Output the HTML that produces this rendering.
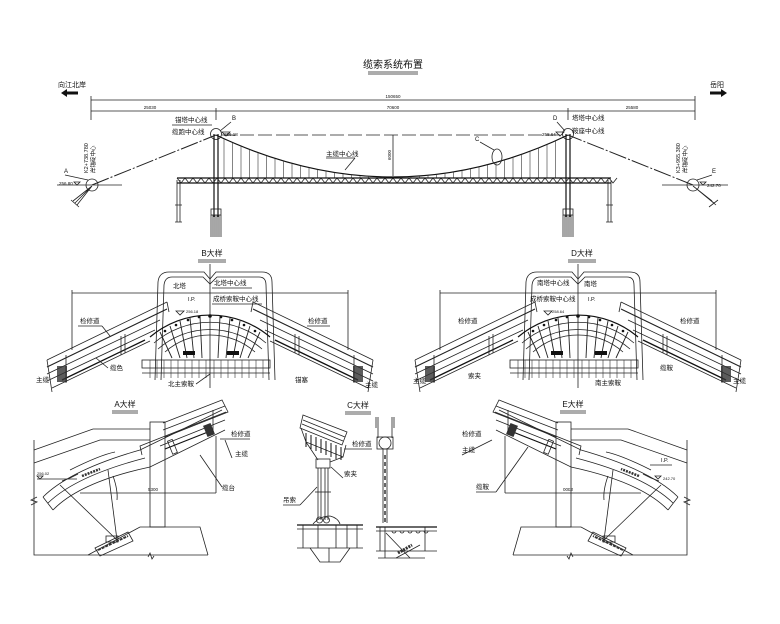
<!DOCTYPE html>
<html><head><meta charset="utf-8">
<style>
html,body{margin:0;padding:0;background:#fff;}
svg{display:block;}
text{font-family:"Liberation Sans","Noto Sans CJK SC",sans-serif;fill:#111;}
.l{stroke:#222;stroke-width:0.8;fill:none;}
.t{stroke:#111;stroke-width:1.2;fill:none;}
.f{stroke:#888;stroke-width:0.5;fill:none;}
</style></head><body>
<svg width="780" height="624" viewBox="0 0 780 624" xmlns="http://www.w3.org/2000/svg">
<rect width="780" height="624" fill="#fff"/>

<text x="393" y="68" font-size="10" text-anchor="middle">缆索系统布置</text>
<line class="l" x1="368" y1="72" x2="418" y2="72"/><line class="l" x1="368" y1="74" x2="418" y2="74"/>

<text x="58" y="87" font-size="7">向江北岸</text>
<path d="M61 93 L67 89 L67 91.5 L78 91.5 L78 94.5 L67 94.5 L67 97 Z" fill="#111"/>
<text x="710" y="87" font-size="7">岳阳</text>
<path d="M727 93 L721 89 L721 91.5 L710 91.5 L710 94.5 L721 94.5 L721 97 Z" fill="#111"/>

<line class="l" x1="91" y1="100" x2="695" y2="100"/>
<line class="l" x1="91" y1="111" x2="695" y2="111"/>
<line class="l" x1="91" y1="96" x2="91" y2="120"/>
<line class="l" x1="695" y1="96" x2="695" y2="120"/>
<line class="l" x1="216" y1="108" x2="216" y2="120"/>
<line class="l" x1="568" y1="108" x2="568" y2="120"/>
<text x="393" y="98" font-size="4.5" text-anchor="middle">150650</text>
<text x="150" y="109" font-size="4.5" text-anchor="middle">25030</text>
<text x="393" y="109" font-size="4.5" text-anchor="middle">70600</text>
<text x="632" y="109" font-size="4.5" text-anchor="middle">25580</text>

<text x="175" y="122" font-size="6.5">锚塔中心线</text>
<text x="172" y="134" font-size="6.5">缆跑中心线</text>
<line class="l" x1="172" y1="125" x2="212" y2="125"/>
<text x="232" y="120" font-size="6">B</text>
<line class="l" x1="220" y1="131" x2="231" y2="122"/>
<text x="572" y="120" font-size="6.5">塔塔中心线</text>
<text x="572" y="133" font-size="6.5">鞍座中心线</text>
<text x="553" y="120" font-size="6">D</text>
<line class="l" x1="557" y1="122" x2="565" y2="131"/>
<text x="224" y="136" font-size="4.5">256.18</text>
<text x="542" y="136" font-size="4.5">258.64</text>
<path class="l" d="M222 132 l4 4 l4 -4 z M556 132 l4 4 l4 -4 z"/>

<circle class="l" cx="216" cy="134" r="5.5"/>
<circle class="l" cx="568" cy="134" r="5.5"/>
<line class="t" x1="214" y1="134" x2="214" y2="217"/>
<line class="t" x1="218" y1="134" x2="218" y2="217"/>
<line class="t" x1="566" y1="134" x2="566" y2="217"/>
<line class="t" x1="570" y1="134" x2="570" y2="217"/>
<rect x="211" y="209" width="10" height="6" class="l"/>
<rect x="563" y="209" width="10" height="6" class="l"/>
<g stroke="#222" stroke-width="0.8">
<line x1="211" y1="215" x2="211" y2="237"/><line x1="213" y1="215" x2="213" y2="237"/><line x1="215" y1="215" x2="215" y2="237"/><line x1="217" y1="215" x2="217" y2="237"/><line x1="219" y1="215" x2="219" y2="237"/><line x1="221" y1="215" x2="221" y2="237"/>
<line x1="563" y1="215" x2="563" y2="237"/><line x1="565" y1="215" x2="565" y2="237"/><line x1="567" y1="215" x2="567" y2="237"/><line x1="569" y1="215" x2="569" y2="237"/><line x1="571" y1="215" x2="571" y2="237"/><line x1="573" y1="215" x2="573" y2="237"/>
</g>
<path class="l" d="M177 180 L177 222 M180 180 L180 222 M175 205 h7 M175 222 h7 M608 180 L608 222 M611 180 L611 222 M606 205 h7 M606 222 h7"/>

<line x1="222" y1="135" x2="562" y2="135" stroke="#222" stroke-width="0.8" stroke-dasharray="14,4"/>
<path class="t" d="M216 135 Q393 219 568 135"/>
<g stroke="#333" stroke-width="0.6" id="hangers"></g>
<line class="l" x1="393" y1="135" x2="393" y2="176"/>
<text x="391" y="160" font-size="4.5" transform="rotate(-90 391 160)">6000</text>
<text x="326" y="156" font-size="6.5">主缆中心线</text>
<line class="l" x1="326" y1="158" x2="355" y2="158"/><line class="l" x1="355" y1="158" x2="345" y2="170"/>
<ellipse class="l" cx="497" cy="157" rx="5" ry="8"/>
<text x="475" y="141" font-size="6">C</text>
<line class="l" x1="480" y1="142" x2="494" y2="150"/>

<line class="t" x1="177" y1="178" x2="611" y2="178"/>
<line class="t" x1="177" y1="183" x2="611" y2="183"/>
<path id="truss" class="l" d=""/>

<line x1="92" y1="185" x2="216" y2="135" stroke="#222" stroke-width="1" stroke-dasharray="18,2,2,2"/>
<line x1="693" y1="185" x2="568" y2="135" stroke="#222" stroke-width="1" stroke-dasharray="18,2,2,2"/>
<circle class="l" cx="92" cy="185" r="6"/>
<circle class="l" cx="693" cy="185" r="6"/>
<line class="l" x1="57" y1="185" x2="122" y2="185"/>
<line class="l" x1="662" y1="185" x2="728" y2="185"/>
<path class="l" d="M92 186 L73 201 M92 186 L77 205 M92 186 L75 203 M71 200 L79 207"/>
<path class="l" d="M693 186 L712 201 M693 186 L716 205 M693 186 L714 203 M709 207 L718 200"/>
<text x="64" y="173" font-size="6">A</text>
<line class="l" x1="65" y1="175" x2="88" y2="180"/>
<text x="59" y="185" font-size="4.5">256.80</text>
<path class="l" d="M74 182 l3 3 l3 -3 z"/>
<text x="88" y="173" font-size="5.5" transform="rotate(-90 88 173)">K2+738.780</text>
<text x="95" y="173" font-size="5.5" transform="rotate(-90 95 173)">岸锚碇中心</text>
<text x="680" y="173" font-size="5.5" transform="rotate(-90 680 173)">K3+965.380</text>
<text x="687" y="173" font-size="5.5" transform="rotate(-90 687 173)">岸锚碇中心</text>
<text x="712" y="173" font-size="6">E</text>
<line class="l" x1="697" y1="180" x2="712" y2="175"/>
<text x="707" y="187" font-size="4.5">242.70</text>
<path class="l" d="M700 182 l3 3 l3 -3 z"/>

<g id="saddle">
<line class="l" x1="72" y1="293" x2="348" y2="293"/>
<line class="l" x1="72" y1="290" x2="72" y2="350"/>
<line class="l" x1="348" y1="290" x2="348" y2="350"/>
<path class="l" d="M155 380 L158 282 Q159 272 169 272 L204 272 L210 279 L216 272 L262 272 Q272 272 272 282 L275 380"/>
<path class="l" d="M161 380 L164 285 Q165 277 172 277 L203 277 L210 284 L217 277 L259 277 Q266 277 266 285 L269 380"/>
<line class="l" x1="210" y1="264" x2="210" y2="388"/>
<path class="t" d="M150 337 A93 93 0 0 1 270 337"/>
<path class="l" d="M154 343 A86 86 0 0 1 266 343"/>
<path class="l" d="M158 349 A79 79 0 0 1 262 349"/>
<path class="l" d="M165 352 A68 68 0 0 1 255 352"/>
<g stroke="#222" stroke-width="0.9">
<line x1="160" y1="332" x2="172" y2="358"/><line x1="170" y1="326" x2="180" y2="358"/><line x1="180" y1="321" x2="187" y2="358"/><line x1="190" y1="318" x2="194" y2="358"/><line x1="200" y1="316" x2="202" y2="358"/>
<line x1="220" y1="316" x2="218" y2="358"/><line x1="230" y1="318" x2="226" y2="358"/><line x1="240" y1="321" x2="233" y2="358"/><line x1="250" y1="326" x2="240" y2="358"/><line x1="260" y1="332" x2="248" y2="358"/>
</g>
<g fill="#111">
<circle cx="165" cy="331" r="1.3"/><circle cx="176" cy="325" r="1.3"/><circle cx="188" cy="320" r="1.3"/><circle cx="199" cy="317" r="1.3"/><circle cx="210" cy="316" r="1.8"/><circle cx="221" cy="317" r="1.3"/><circle cx="232" cy="320" r="1.3"/><circle cx="244" cy="325" r="1.3"/><circle cx="255" cy="331" r="1.3"/>
<rect x="183" y="351" width="12" height="4"/><rect x="227" y="351" width="12" height="4"/>
</g>
<rect class="l" x="142" y="360" width="128" height="8"/>
<line class="l" x1="142" y1="373" x2="270" y2="373"/>
<g stroke="#333" stroke-width="0.6">
<line x1="150" y1="360" x2="150" y2="378"/><line x1="157" y1="360" x2="157" y2="378"/><line x1="164" y1="360" x2="164" y2="378"/><line x1="171" y1="360" x2="171" y2="378"/><line x1="178" y1="360" x2="178" y2="378"/><line x1="185" y1="360" x2="185" y2="378"/><line x1="192" y1="360" x2="192" y2="378"/><line x1="199" y1="360" x2="199" y2="378"/><line x1="206" y1="360" x2="206" y2="378"/><line x1="214" y1="360" x2="214" y2="378"/><line x1="221" y1="360" x2="221" y2="378"/><line x1="228" y1="360" x2="228" y2="378"/><line x1="235" y1="360" x2="235" y2="378"/><line x1="242" y1="360" x2="242" y2="378"/><line x1="249" y1="360" x2="249" y2="378"/><line x1="256" y1="360" x2="256" y2="378"/><line x1="263" y1="360" x2="263" y2="378"/>
</g>
<g class="l">
<line x1="47" y1="360" x2="167" y2="302"/>
<line x1="47" y1="367" x2="167" y2="309" stroke-width="1.1"/>
<line x1="47" y1="374" x2="160" y2="320"/>
<line x1="47" y1="381" x2="155" y2="330"/>
<line x1="52" y1="388" x2="150" y2="341"/>
<line x1="47" y1="360" x2="52" y2="392"/>
<line x1="167" y1="302" x2="169" y2="312"/>
</g>
<line x1="62" y1="380" x2="145" y2="340" stroke="#111" stroke-width="1.3"/>
<rect x="57" y="366" width="10" height="16" fill="#333" opacity="0.8"/>
<line class="l" x1="66" y1="355" x2="66" y2="383"/>
<line class="l" x1="121" y1="336" x2="121" y2="355"/><line class="l" x1="125" y1="334" x2="125" y2="353"/>
<g class="l">
<line x1="373" y1="360" x2="253" y2="302"/>
<line x1="373" y1="367" x2="253" y2="309" stroke-width="1.1"/>
<line x1="373" y1="374" x2="260" y2="320"/>
<line x1="373" y1="381" x2="265" y2="330"/>
<line x1="368" y1="388" x2="270" y2="341"/>
<line x1="373" y1="360" x2="368" y2="392"/>
<line x1="253" y1="302" x2="251" y2="312"/>
</g>
<line x1="358" y1="380" x2="275" y2="340" stroke="#111" stroke-width="1.3"/>
<rect x="353" y="366" width="10" height="16" fill="#333" opacity="0.8"/>
<line class="l" x1="354" y1="355" x2="354" y2="383"/>
<line class="l" x1="299" y1="336" x2="299" y2="355"/><line class="l" x1="295" y1="334" x2="295" y2="353"/>
<path class="l" d="M176 311 l4 4 l4 -4 z"/>
</g>

<text x="212" y="256" font-size="8" text-anchor="middle">B大样</text>
<line class="l" x1="198" y1="260" x2="226" y2="260"/><line class="l" x1="198" y1="262" x2="226" y2="262"/>
<text x="173" y="288" font-size="6.5">北塔</text>
<text x="214" y="285" font-size="6.5">北塔中心线</text>
<line class="l" x1="212" y1="288" x2="252" y2="288"/>
<text x="213" y="301" font-size="6.5">成桥索鞍中心线</text>
<line class="l" x1="212" y1="304" x2="262" y2="304"/>
<text x="188" y="301" font-size="5.5">I.P.</text>
<text x="186" y="313" font-size="4">256.18</text>
<text x="80" y="323" font-size="6.5">检修道</text>
<line class="l" x1="78" y1="326" x2="102" y2="326"/><line class="l" x1="102" y1="326" x2="110" y2="336"/>
<text x="308" y="323" font-size="6.5">检修道</text>
<line class="l" x1="307" y1="326" x2="330" y2="326"/>
<text x="110" y="370" font-size="6.5">缆色</text>
<line class="l" x1="96" y1="358" x2="108" y2="368"/>
<text x="36" y="382" font-size="6.5">主缆</text>
<text x="168" y="386" font-size="6.5">北主索鞍</text>
<line class="l" x1="196" y1="384" x2="210" y2="374"/>
<text x="295" y="382" font-size="6.5">锚塞</text>
<text x="365" y="387" font-size="6.5">主缆</text>

<use href="#saddle" transform="translate(368,0)"/>
<text x="582" y="256" font-size="8" text-anchor="middle">D大样</text>
<line class="l" x1="568" y1="260" x2="596" y2="260"/><line class="l" x1="568" y1="262" x2="596" y2="262"/>
<text x="537" y="285" font-size="6.5">南塔中心线</text>
<text x="584" y="286" font-size="6.5">南塔</text>
<text x="530" y="301" font-size="6.5">成桥索鞍中心线</text>
<text x="588" y="301" font-size="5.5">I.P.</text>
<text x="552" y="313" font-size="4">258.64</text>
<text x="458" y="323" font-size="6.5">检修道</text>
<text x="680" y="323" font-size="6.5">检修道</text>
<text x="468" y="378" font-size="6.5">索夹</text>
<text x="413" y="383" font-size="6.5">主缆</text>
<text x="595" y="385" font-size="6.5">南主索鞍</text>
<text x="660" y="370" font-size="6.5">缆鞍</text>
<text x="733" y="383" font-size="6.5">主缆</text>

<g id="anchorA">
<path class="l" d="M34 440 L34 555 L208 555"/>
<path class="l" d="M31 505 l6 -3 l-6 -2 l6 -3"/>
<path class="l" d="M34 450 L93 429 L150 429"/>
<path class="l" d="M34 463 L100 440 L150 440"/>
<rect class="l" x="150" y="422" width="15" height="105"/>
<path class="l" d="M88 555 L140 527 L200 527 L208 555"/>
<path class="l" d="M43 497 Q70 470 140 450 L222 410"/>
<path class="l" d="M53 510 Q80 482 150 467 L225 430"/>
<path class="l" d="M48 503 Q76 476 145 458"/>
<line class="l" x1="43" y1="497" x2="53" y2="510"/>
<path class="l" d="M113 476 Q118 490 117 500"/>
<path class="l" d="M70 470 Q100 455 115 452"/>
<path class="l" d="M163 423 L222 400 L228 412 L165 437"/>
<path class="l" d="M163 430 L225 406"/>
<path class="l" d="M160 446 L225 420"/>
<path class="l" d="M142 455 L140 446 L226 412"/>
<line x1="165" y1="449" x2="213" y2="430" stroke="#111" stroke-width="1.2"/>
<rect x="170" y="440" width="5" height="14" class="l" transform="rotate(-22 172 447)"/>
<rect x="205" y="424" width="8" height="12" fill="#333" transform="rotate(-22 209 430)"/>
<line class="l" x1="213" y1="410" x2="213" y2="432"/>
<line class="l" x1="216" y1="436" x2="216" y2="493"/>
<line class="l" x1="80" y1="493" x2="216" y2="493"/>
<text x="148" y="491" font-size="4.5">5300</text>
<line class="l" x1="117" y1="540" x2="60" y2="485"/>
<line class="l" x1="117" y1="540" x2="108" y2="470"/>
<path class="l" d="M95 548 L128 532 L133 541 L100 556 Z"/>
<rect x="106" y="536" width="12" height="6" class="l"/>
<path d="M98 550 L128 536" stroke="#333" stroke-width="2" stroke-dasharray="3,1"/>
<path class="l" d="M62 481 l8 -3 l4 -2 l4 -2"/>
<path d="M82 476 L100 469" stroke="#333" stroke-width="2.5" stroke-dasharray="2,1"/>
<path class="l" d="M148 557 l2 -4 l2 6 l2 -3"/>
</g>
<text x="125" y="407" font-size="8" text-anchor="middle">A大样</text>
<line class="l" x1="112" y1="411" x2="138" y2="411"/><line class="l" x1="112" y1="413" x2="138" y2="413"/>
<text x="231" y="436" font-size="6.5">检修道</text>
<line class="l" x1="220" y1="439" x2="250" y2="439"/>
<text x="235" y="456" font-size="6.5">主缆</text>
<line class="l" x1="225" y1="440" x2="232" y2="458"/>
<text x="222" y="490" font-size="6.5">缆台</text>
<line class="l" x1="200" y1="455" x2="222" y2="487"/>
<text x="37" y="475" font-size="4">256.02</text>
<path class="l" d="M37 476 l3 3 l3 -3 z M37 479 h40"/>

<use href="#anchorA" transform="translate(721,0) scale(-1,1)"/>
<text x="573" y="407" font-size="8" text-anchor="middle">E大样</text>
<line class="l" x1="560" y1="411" x2="586" y2="411"/><line class="l" x1="560" y1="413" x2="586" y2="413"/>
<text x="462" y="436" font-size="6.5">检修道</text>
<text x="462" y="452" font-size="6.5">主缆</text>
<line class="l" x1="462" y1="455" x2="492" y2="440"/>
<text x="476" y="489" font-size="6.5">缆鞍</text>
<line class="l" x1="476" y1="492" x2="496" y2="492"/><line class="l" x1="496" y1="492" x2="528" y2="447"/>
<text x="661" y="462" font-size="5.5">I.P.</text>
<text x="663" y="480" font-size="4">242.70</text>
<path class="l" d="M655 476 l3 3 l3 -3 z M650 465 h22"/>

<text x="358" y="408" font-size="8" text-anchor="middle">C大样</text>
<line class="l" x1="345" y1="412" x2="371" y2="412"/><line class="l" x1="345" y1="414" x2="371" y2="414"/>
<path class="l" d="M303 415 L347 432 L342 445 L300 428 Z"/>
<path class="l" d="M303 420 L345 437 M302 424 L343 441"/>
<path class="l" d="M301 428 L306 442 L343 457 L346 445"/>
<g stroke="#111" stroke-width="1">
<line x1="306" y1="433" x2="306" y2="447"/><line x1="311" y1="435" x2="311" y2="449"/><line x1="316" y1="437" x2="316" y2="451"/><line x1="321" y1="439" x2="321" y2="453"/><line x1="326" y1="441" x2="326" y2="455"/><line x1="331" y1="443" x2="331" y2="457"/><line x1="336" y1="445" x2="336" y2="459"/><line x1="341" y1="447" x2="341" y2="460"/>
</g>
<path class="l" d="M306 442 L318 460 M343 457 L330 462"/>
<rect class="l" x="316" y="459" width="14" height="9"/>
<g class="l">
<line x1="318" y1="468" x2="318" y2="520"/><line x1="321" y1="468" x2="321" y2="520"/>
<line x1="325" y1="468" x2="325" y2="520"/><line x1="328" y1="468" x2="328" y2="520"/>
<line x1="315" y1="492" x2="331" y2="492"/>
</g>
<circle class="l" cx="319.5" cy="520" r="3"/><circle class="l" cx="326.5" cy="520" r="3"/>
<path class="l" d="M313 524 Q320 516 330 516 Q338 518 340 524"/>
<line class="t" x1="297" y1="525" x2="363" y2="525"/>
<path class="l" d="M297 529 L363 529 M297 548 L363 548 M303 525 L303 548 M357 525 L357 548 M318 525 L318 548 M336 525 L336 548 M347 525 L347 548"/>
<path class="l" d="M310 548 L320 562 L340 562 L350 548"/>
<line class="l" x1="329" y1="548" x2="329" y2="562"/>
<text x="352" y="446" font-size="6.5">检修道</text>
<line class="l" x1="344" y1="449" x2="372" y2="449"/>
<text x="344" y="476" font-size="6.5">索夹</text>
<line class="l" x1="331" y1="467" x2="343" y2="478"/>
<text x="283" y="502" font-size="6.5">吊索</text>
<line class="l" x1="283" y1="505" x2="300" y2="505"/><line class="l" x1="300" y1="505" x2="317" y2="487"/>
<path class="l" d="M378 417 L378 438 M392 417 L392 438 M376 417 L376 428 M394 417 L394 428"/>
<circle class="l" cx="385" cy="443" r="6"/>
<rect class="l" x="377" y="437" width="16" height="12"/>
<path class="l" d="M383 449 L383 523 M387 449 L387 523"/>
<path d="M385 455 L385 522" stroke="#333" stroke-width="1.5" stroke-dasharray="4,3"/>
<line class="t" x1="376" y1="527" x2="437" y2="527"/>
<path class="l" d="M376 531 L437 531 M376 551 L437 551 M380 527 L380 551 M425 527 L425 551 M385 527 L385 558"/>
<path class="l" d="M392 531 a2 2 0 0 0 4 0 M400 531 a2 2 0 0 0 4 0 M408 531 a2 2 0 0 0 4 0 M416 531 a2 2 0 0 0 4 0 M424 531 a2 2 0 0 0 4 0"/>
<path class="l" d="M386 533 L410 558 M396 558 L420 545"/>
<path d="M398 553 L412 545" stroke="#333" stroke-width="3" stroke-dasharray="2,1"/>
<line class="l" x1="378" y1="558" x2="425" y2="558"/>
</svg>
<script>
(function(){
  var g=document.getElementById('hangers'),ns='http://www.w3.org/2000/svg';
  for(var x=224;x<=562;x+=8.5){
    var u=(x-216)/352;
    var y=(1-u)*(1-u)*135+2*(1-u)*u*219+u*u*135;
    var l=document.createElementNS(ns,'line');
    l.setAttribute('x1',x);l.setAttribute('x2',x);l.setAttribute('y1',y);l.setAttribute('y2',178);
    g.appendChild(l);
  }
  var d='';
  for(var x=177;x<611;x+=8){d+='M'+x+' 178 L'+(x+4)+' 183 L'+(x+8)+' 178 ';}
  document.getElementById('truss').setAttribute('d',d);
})();
</script>
</body></html>
